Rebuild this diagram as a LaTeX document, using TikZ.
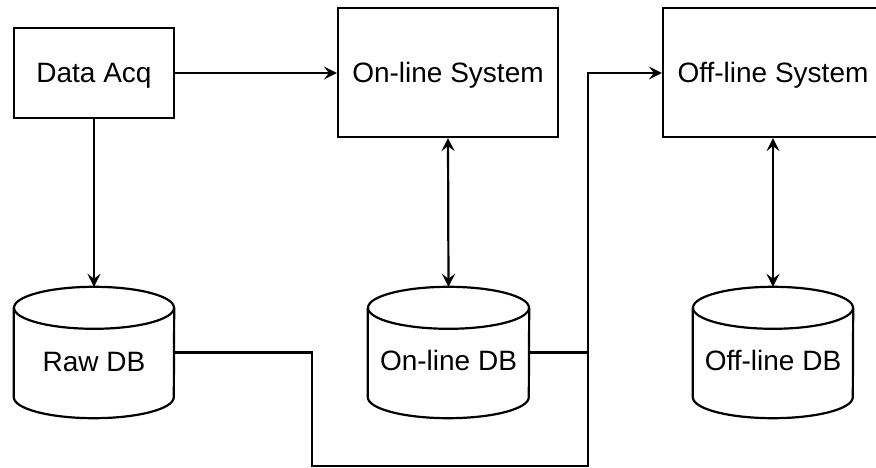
\documentclass[tikz,border=0pt]{standalone}
\usepackage{fontspec}
\setmainfont{Liberation Sans}
\usetikzlibrary{arrows.meta,calc}
\begin{document}
\begin{tikzpicture}[x=1pt,y=-1pt,
  line/.style={line width=2.2pt,black},
  tip/.tip={Stealth[length=13pt,width=13pt,inset=5pt]},
  arr/.style={line, -tip},
  darr/.style={line, tip-tip},
  txt/.style={font=\fontsize{28}{33}\selectfont, inner sep=0pt},
  sysbox/.style={draw, line, txt, text height=20pt, text depth=0pt},
  cylnode/.style={inner sep=0pt, minimum height=131pt},
  cyl/.style={line, line join=round}
]
\useasboundingbox (0,0) rectangle (876,468);
\fill[white] (0,0) rectangle (876,468);
\clip (0,0) rectangle (876,468);

% boxes
\node[sysbox, minimum width=160pt, minimum height=90pt] (da) at (94,73) {Data Acq};
\node[sysbox, minimum width=220pt, minimum height=129pt] (onl) at (448,72.5) {On-line System};
\node[sysbox, minimum width=220pt, minimum height=129pt] (offs) at (773,72.5) {Off-line System};

% cylinders (shape nodes)
\node[cylnode, minimum width=160pt] (raw) at (94,352.5) {};
\node[cylnode, minimum width=161pt] (onldb) at (448.5,352.5) {};
\node[cylnode, minimum width=160pt] (offdb) at (773,352.5) {};

\foreach \cn/\rx in {raw/80,onldb/80.5,offdb/80}{
  \draw[cyl] ($(\cn.north)+(0,21)$) ellipse[x radius=\rx, y radius=21];
  \draw[cyl] ($(\cn.north west)+(0,21)$) -- ($(\cn.south west)+(0,-21)$)
    arc[start angle=180, end angle=0, x radius=\rx, y radius=21]
    -- ($(\cn.north east)+(0,21)$);
}

\node[txt, anchor=base] (rawl) at (94,371) {Raw DB};
\node[txt, anchor=base] (onldbl) at (448.5,370.5) {On-line DB};
\node[txt, anchor=base] (offdbl) at (773,370.5) {Off-line DB};

% connectors
\coordinate (c1) at (312,466);
\coordinate (c2) at (588,73);
\draw[arr] (da.east) -- (da.east -| onl.west);
\draw[arr] (da.south) -- (raw.north);
\draw[darr] (onl.south) -- (onldb.north);
\draw[darr] (offs.south) -- (offdb.north);
\draw[arr, line join=miter] (raw.east) -| (c1) -| (c2) -- (c2 -| offs.west);
\draw[line] (onldb.east) -- (onldb.east -| c2);
\end{tikzpicture}
\end{document}
